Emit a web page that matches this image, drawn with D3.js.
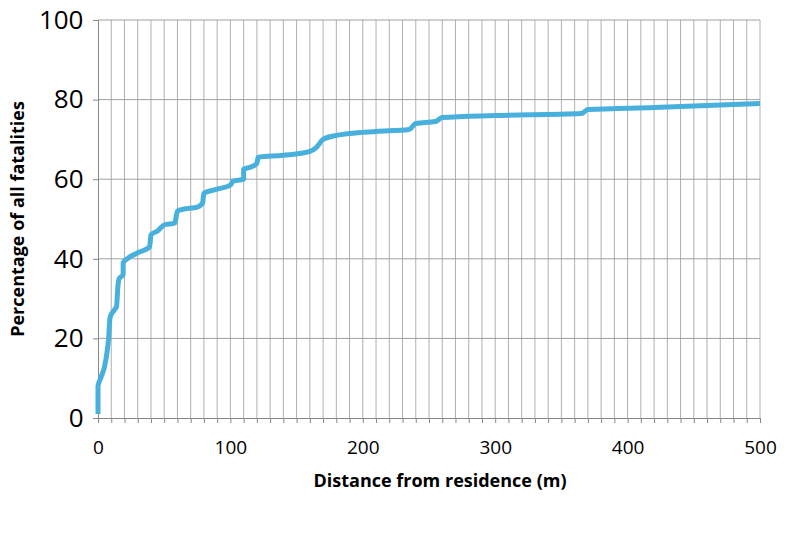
<!DOCTYPE html><html><head><meta charset="utf-8"><script src="https://cdn.jsdelivr.net/npm/d3@7"></script>
<style>body{margin:0;background:#fff}</style></head><body><svg id="c" width="800" height="539"></svg><script>
const distances=[0,0,2,5,7,8,9,10,12,14,15,16,19,19,22,30,39,40,45,50,58,60,65,75,79,80,90,100,102,110,110,115,120,121,140,160,165,170,180,190,210,235,240,255,260,300,365,370,420,500];
const percents=[1,8,10,13,17,20,25,26,27,28,33,35,36,39,40,41.5,43,46,47,48.5,49,52,52.5,53,54,56.5,57.5,58.5,59.5,60,62.5,63,64,65.5,66,67,68,70,71,71.5,72,72.5,74,74.5,75.5,76,76.5,77.5,78,79];
const xTicks=[0,100,200,300,400,500];
const yTicks=[0,20,40,60,80,100];
const svg=d3.select("#c");
const x=d3.scaleLinear().domain([0,500]).range([98,760]);
const y=d3.scaleLinear().domain([0,100]).range([418,20]);
const g=svg.append("g");
g.selectAll(".vg").data(d3.range(10,501,10)).enter().append("line").attr("x1",d=>x(d)).attr("x2",d=>x(d)).attr("y1",y(0)).attr("y2",y(100)).attr("stroke","#b0b0b0").attr("stroke-width",1);
g.selectAll(".hg").data(yTicks.slice(1)).enter().append("line").attr("x1",x(0)).attr("x2",x(500)).attr("y1",d=>y(d)).attr("y2",d=>y(d)).attr("stroke","#a0a0a0").attr("stroke-width",1);
const xa=svg.append("g").attr("transform",`translate(0,${y(0)})`).call(d3.axisBottom(x).tickValues(d3.range(0,501,10)).tickSize(5).tickFormat(d=>xTicks.includes(d)?d:""));
xa.selectAll("text").attr("font-family","Open Sans, sans-serif").attr("font-size",19).attr("fill","#000").attr("dy","1.45em");
xa.selectAll("line,path").attr("stroke","#888");
const ya=svg.append("g").attr("transform",`translate(${x(0)},0)`).call(d3.axisLeft(y).tickValues(yTicks).tickSize(5));
ya.selectAll("text").attr("font-family","Open Sans, sans-serif").attr("font-size",26).attr("fill","#000").attr("dx","-0.25em");
ya.selectAll("line,path").attr("stroke","#888");
svg.append("path").datum(distances.map((d,i)=>[d,percents[i]])).attr("d",d3.line().x(d=>x(d[0])).y(d=>y(d[1])).curve(d3.curveMonotoneX)).attr("fill","none").attr("stroke","#48b0dc").attr("stroke-width",5).attr("stroke-linejoin","round");
svg.append("text").attr("x",440).attr("y",487).attr("text-anchor","middle").attr("font-family","Open Sans, sans-serif").attr("font-weight","bold").attr("font-size",18).text("Distance from residence (m)");
svg.append("text").attr("transform","translate(24,219) rotate(-90)").attr("text-anchor","middle").attr("font-family","Open Sans, sans-serif").attr("font-weight","bold").attr("font-size",18).text("Percentage of all fatalities");
</script></body></html>
